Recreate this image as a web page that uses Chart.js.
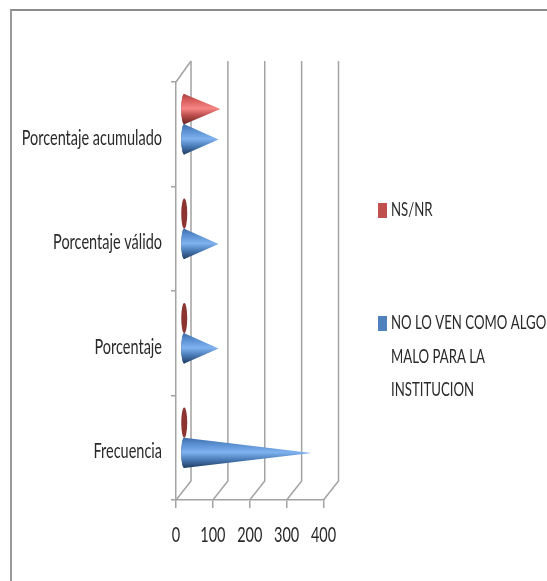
<!DOCTYPE html>
<html><head><meta charset="utf-8">
<script src="https://cdn.jsdelivr.net/npm/chart.js@4"></script>
<style>
html,body{margin:0;padding:0;background:#fff;overflow:hidden}
#wrap{position:relative;width:547px;height:581px;filter:blur(0.4px)}
#frame{position:absolute;left:10px;top:9px;right:0;bottom:0;border-left:2px solid #9a9a9a;border-top:2px solid #8c8c8c}
canvas{position:absolute;left:0;top:0}
</style></head><body>
<div id="wrap"><div id="frame"></div><canvas id="c" width="547" height="581"></canvas></div>
<script>
const categories = ["Frecuencia","Porcentaje","Porcentaje válido","Porcentaje acumulado"];
const seriesBlue = [347,95,95,95];
const seriesRed = [18,5,5,100];
const nameBlue = "NO LO VEN COMO ALGO MALO PARA LA INSTITUCION";
const nameRed = "NS/NR";
const xTicks = [0,100,200,300,400];
const FONT = "Lato,'Liberation Sans',sans-serif";
const INK = "#2a2a2a";
const DX = 15, DY = -19;
let squeeze = 0.69;

const canvas = document.getElementById("c");
const rawCtx = canvas.getContext("2d");
const origFill = rawCtx.fillText.bind(rawCtx);
rawCtx.fillText = function(t,x,y){ origFill(t,x,y,rawCtx.measureText(t).width*squeeze); };

function cone(ctx, el, stops, capColor){
  const cx = el.base + 7.5, cy = el.y - 10, ry = el.height/2, rx = 3;
  const tip = el.x + 7.5;
  ctx.save();
  ctx.beginPath(); ctx.ellipse(cx, cy, rx, ry, 0, 0, Math.PI*2);
  ctx.fillStyle = capColor; ctx.fill();
  if (tip - cx > 10) {
    const g = ctx.createLinearGradient(0, cy-ry, 0, cy+ry);
    stops.forEach(s => g.addColorStop(s[0], s[1]));
    ctx.beginPath();
    ctx.moveTo(cx, cy-ry);
    ctx.lineTo(tip, cy);
    ctx.lineTo(cx, cy+ry);
    ctx.ellipse(cx, cy, rx, ry, 0, Math.PI/2, Math.PI*1.5);
    ctx.closePath();
    ctx.fillStyle = g; ctx.fill();
  }
  ctx.restore();
}
const blueStops = [[0,"#3f6ea8"],[0.22,"#5a90d2"],[0.48,"#7fb2ee"],[0.72,"#4a7cb8"],[1,"#1f3c62"]];
const redStops = [[0,"#a84543"],[0.22,"#d85f5c"],[0.48,"#f58583"],[0.72,"#b84c4a"],[1,"#6a2422"]];

const depthPlugin = {
  id:"depth",
  beforeDatasetsDraw(chart){
    const {ctx, scales:{x,y}} = chart;
    const b = y.bottom, t = y.top;
    ctx.save();
    ctx.strokeStyle = "#a3a3a3"; ctx.lineWidth = 1.5;
    xTicks.forEach(v=>{
      const p = x.getPixelForValue(v);
      ctx.beginPath(); ctx.moveTo(p,b); ctx.lineTo(p+DX,b+DY); ctx.lineTo(p+DX,t+DY-2); ctx.stroke();
    });
    const p0 = x.getPixelForValue(0);
    ctx.beginPath(); ctx.moveTo(p0,t); ctx.lineTo(p0+DX,t+DY-2); ctx.stroke();
    ctx.restore();
  },
  afterDatasetsDraw(chart){
    const ctx = chart.ctx;
    const red = chart.getDatasetMeta(0).data, blue = chart.getDatasetMeta(1).data;
    for (let i = blue.length-1; i>=0; i--){
      cone(ctx, red[i], redStops, "#8c3432");
      cone(ctx, blue[i], blueStops, "#2f5a92");
    }
    ctx.save();
    ctx.font = "20px "+FONT; ctx.textBaseline = "middle"; ctx.textAlign = "left";
    const rows = [
      {color:"#c0504d", top:203, lines:[nameRed], y:210},
      {color:"#4f81bd", top:316, lines:["NO LO VEN COMO ALGO","MALO PARA LA","INSTITUCION"], y:323}
    ];
    const keep = squeeze; squeeze = 0.66;
    rows.forEach(r=>{
      ctx.fillStyle = r.color; ctx.fillRect(378, r.top, 9, 15);
      ctx.fillStyle = INK;
      r.lines.forEach((l,k)=>ctx.fillText(l, 391, r.y + k*33.5));
    });
    squeeze = keep;
    ctx.restore();
  }
};

new Chart(canvas, {
  type:"bar",
  plugins:[depthPlugin],
  data:{labels:categories, datasets:[
    {label:nameRed, data:seriesRed, backgroundColor:"rgba(0,0,0,0)"},
    {label:nameBlue, data:seriesBlue, backgroundColor:"rgba(0,0,0,0)"}
  ]},
  options:{
    indexAxis:"y", responsive:false, animation:false,
    layout:{padding:{top:82,right:223.5,left:0,bottom:0}},
    datasets:{bar:{barPercentage:1,categoryPercentage:0.58}},
    plugins:{legend:{display:false},title:{display:false},tooltip:{enabled:false}},
    scales:{
      x:{min:0,max:400,
        afterFit(s){s.height=81;},
        afterBuildTicks(s){s.ticks=xTicks.map(v=>({value:v}));},
        grid:{drawOnChartArea:false,color:"#a3a3a3",lineWidth:1.5,tickLength:8},
        border:{color:"#a3a3a3",width:1.5},
        ticks:{color:INK,font:{family:FONT,size:21},padding:15,maxRotation:0,autoSkip:false}},
      y:{reverse:true,
        afterFit(s){s.width=176;},
        grid:{drawOnChartArea:false,color:"#a3a3a3",lineWidth:1.5,tickLength:5},
        border:{color:"#a3a3a3",width:1.5},
        ticks:{color:INK,font:{family:FONT,size:21},padding:9,labelOffset:3.5}}
    }
  }
});
</script>
</body></html>
